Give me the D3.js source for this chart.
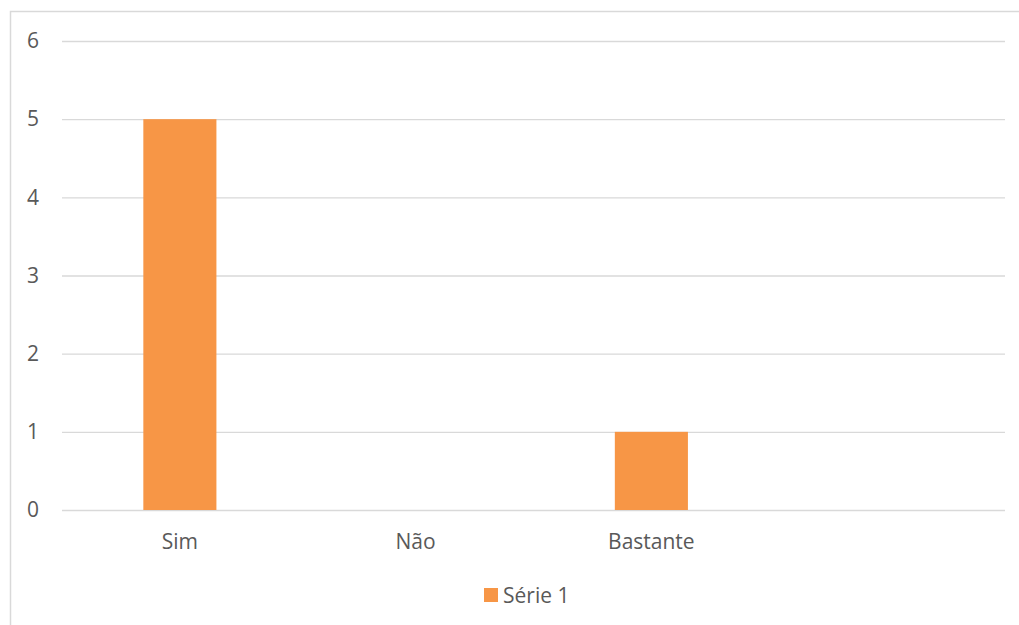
<!DOCTYPE html>
<html>
<head>
<meta charset="utf-8">
<script src="https://cdn.jsdelivr.net/npm/d3@7"></script>
<style>
  html, body { margin: 0; padding: 0; background: #fff; }
  svg { display: block; }
  text { font-family: "Open Sans", sans-serif; fill: #595959; }
</style>
</head>
<body>
<svg id="chart" width="1019" height="625"></svg>
<script>
const categories = ["Sim", "Não", "Bastante", ""];
const seriesName = "Série 1";
const values = [5, 0, 1, null];
const yTicks = [0, 1, 2, 3, 4, 5, 6];

const svg = d3.select("#chart");
const W = 1019, H = 625;
const margin = { left: 62, right: 14, top: 41, bottom: 115 };
const FS = "21px";

// chart border
svg.append("rect")
  .attr("x", 10.5).attr("y", 11.5)
  .attr("width", W + 20).attr("height", H + 20)
  .attr("fill", "none").attr("stroke", "#d9d9d9").attr("stroke-width", 1.5);

const x = d3.scaleBand()
  .domain(categories)
  .range([margin.left, W - margin.right])
  .paddingInner(0.69)
  .paddingOuter(0.345);

const y = d3.scaleLinear()
  .domain([0, 6])
  .range([H - margin.bottom, margin.top]);

// gridlines
const yAxis = d3.axisLeft(y)
  .tickValues(yTicks)
  .tickSize(-(W - margin.right - margin.left))
  .tickPadding(23)
  .tickFormat(d3.format("d"));

const gy = svg.append("g")
  .attr("transform", `translate(${margin.left},0)`)
  .call(yAxis);
gy.select(".domain").remove();
gy.selectAll(".tick line").attr("stroke", "#d9d9d9").attr("stroke-width", 1.3);
gy.selectAll(".tick text")
  .style("font-family", "'Open Sans', sans-serif")
  .style("font-size", FS)
  .attr("fill", "#595959");

// bars
svg.append("g").selectAll("rect")
  .data(categories.map((c, i) => ({ c, v: values[i] })).filter(d => d.v))
  .join("rect")
  .attr("x", d => x(d.c))
  .attr("width", x.bandwidth())
  .attr("y", d => y(d.v))
  .attr("height", d => y(0) - y(d.v))
  .attr("fill", "#f79646");

// x axis labels
const xAxis = d3.axisBottom(x).tickSize(0).tickPadding(24);
const gx = svg.append("g")
  .attr("transform", `translate(0,${y(0)})`)
  .call(xAxis);
gx.select(".domain").remove();
gx.selectAll(".tick text")
  .style("font-family", "'Open Sans', sans-serif")
  .style("font-size", FS)
  .attr("fill", "#595959");

// legend
const lg = svg.append("g").attr("transform", "translate(484,588)");
lg.append("rect").attr("width", 14).attr("height", 14).attr("fill", "#f79646");
lg.append("text").attr("x", 19).attr("y", 14.5)
  .style("font-size", FS).text(seriesName);
</script>
</body>
</html>
